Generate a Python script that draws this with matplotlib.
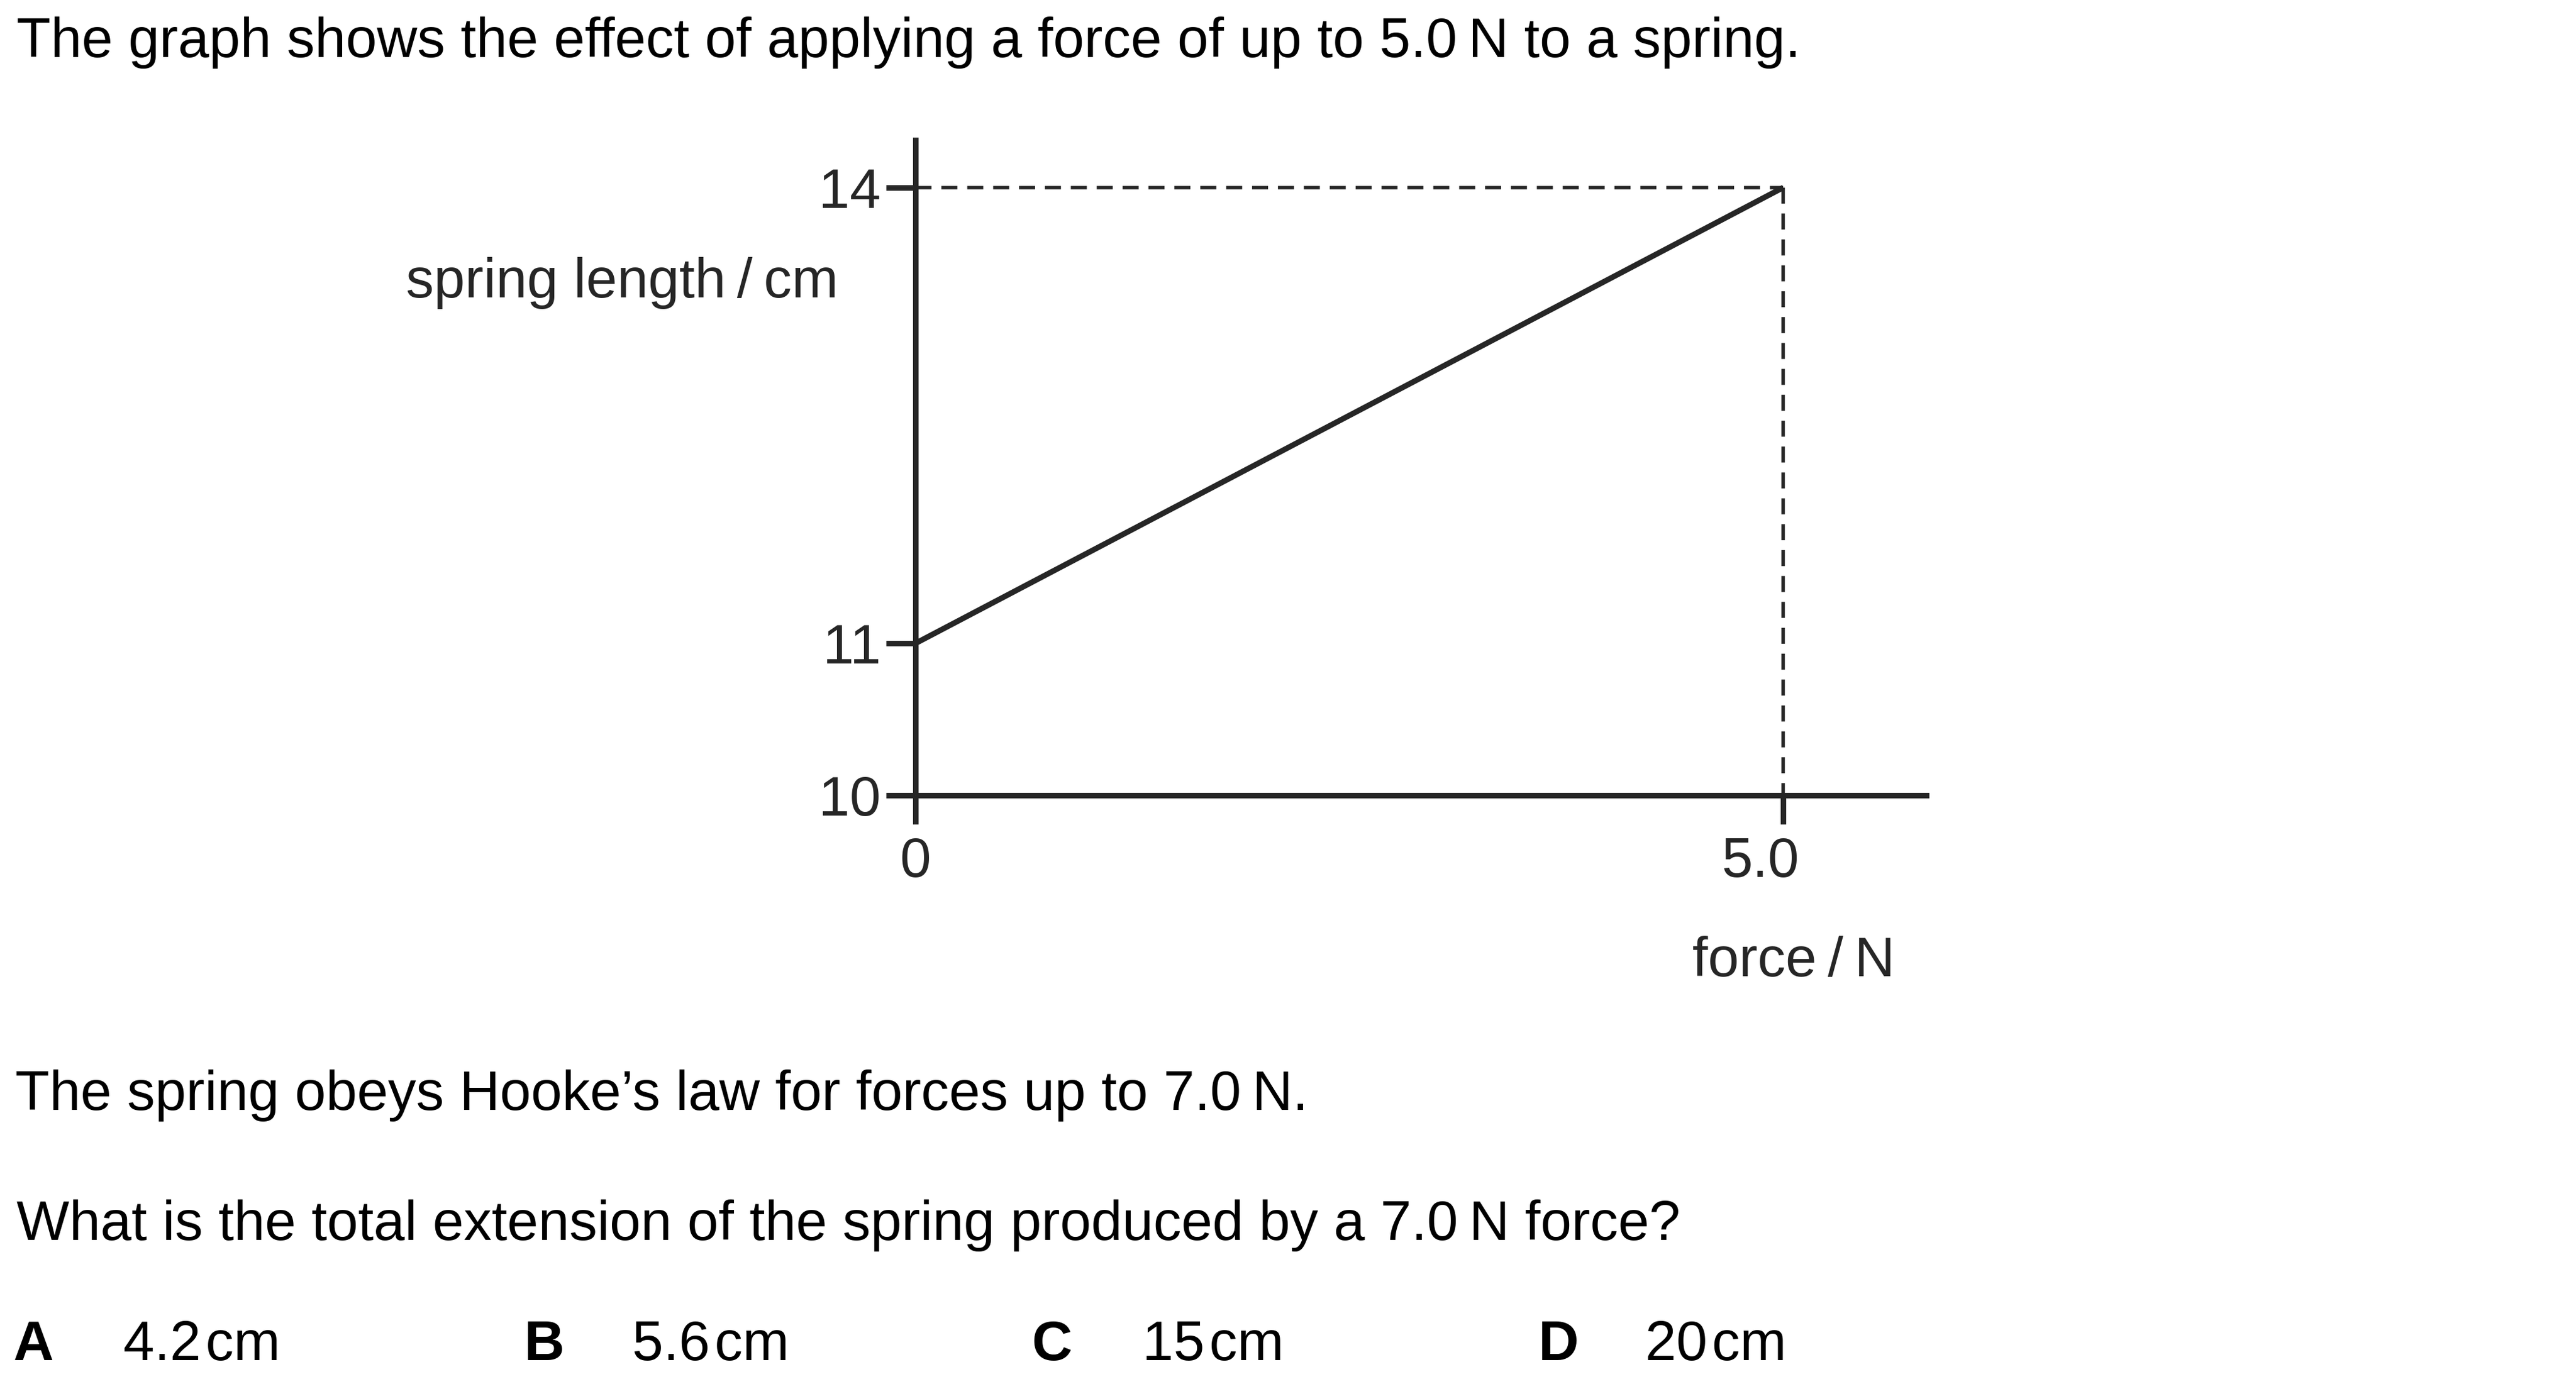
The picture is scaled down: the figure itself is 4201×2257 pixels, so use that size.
import matplotlib
matplotlib.use("Agg")
import matplotlib.pyplot as plt
from matplotlib.transforms import ScaledTranslation

plt.rcParams['font.family'] = ['Liberation Sans', 'DejaVu Sans']

# graph data
force = [0.0, 5.0]
length = [11.0, 14.0]
y_ticks = [10, 11, 14]
y_tick_labels = ['10', '11', '14']
x_ticks = [0, 5.0]
x_tick_labels = ['0', '5.0']

# question text
intro = "The graph shows the effect of applying a force of up to 5.0\u2009N to a spring."
statement = "The spring obeys Hooke\u2019s law for forces up to 7.0\u2009N."
question = "What is the total extension of the spring produced by a 7.0\u2009N force?"
option_letters = ['A', 'B', 'C', 'D']
option_values = ['4.2\u200acm', '5.6\u200acm', '15\u200acm', '20\u200acm']

W, H = 4201, 2257
DPI = 100
FS = 65.6
AX_COL = '#262626'

fig = plt.figure(figsize=(W / DPI, H / DPI), dpi=DPI)


def px(x, y):
    # pixel position (from top-left) to figure fraction
    return x / W, 1 - y / H


# axes placed so that x=0 / y=10 land where the original draws them
ax = fig.add_axes([1493 / W, 1 - 1297 / H, (3146 - 1493) / W, (1297 - 224) / H])
ax.set_xlim(0, 5.84)
ax.set_ylim(10, 14.33)
for side in ['top', 'right']:
    ax.spines[side].set_visible(False)
for side in ['left', 'bottom']:
    ax.spines[side].set_linewidth(6.5)
    ax.spines[side].set_color(AX_COL)
    ax.spines[side].set_capstyle('butt')

ax.plot(force, length, color=AX_COL, lw=6.5, solid_capstyle='butt')

# guide lines to the end point
dash = (0, (4.7, 2.9))
ax.plot([force[0], force[1]], [length[1], length[1]], color=AX_COL, lw=4, linestyle=dash)
ax.plot([force[1], force[1]], [length[1], y_ticks[0]], color=AX_COL, lw=4, linestyle=dash)

ax.set_yticks(y_ticks)
ax.set_yticklabels(y_tick_labels)
ax.set_xticks(x_ticks)
ax.set_xticklabels(x_tick_labels)
ax.tick_params(axis='y', length=34.5, width=6.5, color=AX_COL, labelcolor=AX_COL,
               labelsize=FS, pad=6)
ax.tick_params(axis='x', length=34, width=6.5, color=AX_COL, labelcolor=AX_COL,
               labelsize=FS, pad=14)
for lab in ax.get_xticklabels():
    if lab.get_text() == '5.0':
        lab.set_transform(lab.get_transform() + ScaledTranslation(-38 / DPI, 0, fig.dpi_scale_trans))
for lab in ax.get_xticklabels() + ax.get_yticklabels():
    lab.set_family(['Liberation Sans', 'DejaVu Sans'])

# axis titles
fig.text(*px(1367, 485), "spring length\u2009/\u2009cm", fontsize=FS, color=AX_COL,
         ha='right', va='baseline')
fig.text(*px(2925, 1592), "force\u2009/\u2009N", fontsize=FS, color=AX_COL,
         ha='center', va='baseline')

# question text
fig.text(*px(27, 93), intro, fontsize=FS, color='black', va='baseline')
fig.text(*px(25, 1810), statement, fontsize=FS, color='black', va='baseline')
fig.text(*px(27, 2022), question, fontsize=FS, color='black', va='baseline')

letter_x = [22, 855, 1682, 2509]
value_x = [201, 1031, 1863, 2683]
for lx, vx, letter, val in zip(letter_x, value_x, option_letters, option_values):
    fig.text(*px(lx, 2218), letter, fontsize=FS, fontweight='bold', color='black', va='baseline')
    fig.text(*px(vx, 2218), val, fontsize=FS, color='black', va='baseline')

fig.savefig('out.png', dpi=DPI, facecolor='white')
